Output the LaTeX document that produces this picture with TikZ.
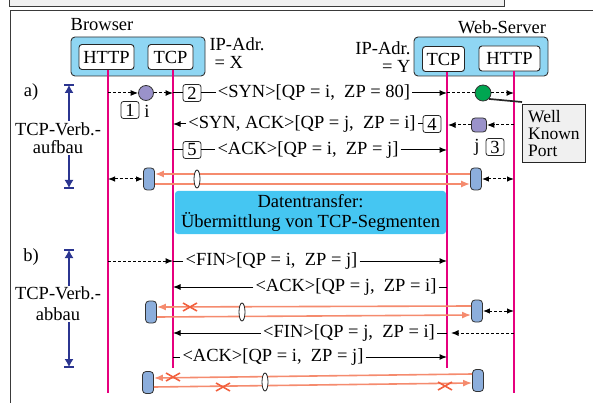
\documentclass[tikz,border=0pt]{standalone}
\usepackage{fontspec}
\setmainfont{Liberation Serif}
\usetikzlibrary{arrows.meta,shapes.geometric}
\definecolor{lifeline}{HTML}{E6007E}
\definecolor{hdrblue}{HTML}{8FD6F3}
\definecolor{dtblue}{HTML}{45C6F2}
\definecolor{salmon}{HTML}{F58B6E}
\definecolor{xred}{HTML}{F2603E}
\definecolor{phase}{HTML}{2B3590}
\definecolor{sockpurple}{HTML}{9A92CA}
\definecolor{portgreen}{HTML}{00A651}
\definecolor{pillblue}{HTML}{8CAEDC}
\definecolor{framegray}{HTML}{3A3A3A}
\begin{document}
\begin{tikzpicture}[x=1pt,y=-1pt,
  font=\fontsize{18.5}{18.5}\selectfont,
  tip/.style={-{Latex[length=7.5pt,width=6pt]}},
  hdrbox/.style={draw=black!80,fill=hdrblue,rounded corners=4pt,line width=0.9pt,inner sep=0pt},
  layer/.style={draw=black!85,fill=white,rounded corners=3pt,line width=0.9pt,minimum height=25pt,inner sep=2pt},
  life/.style={draw=lifeline,line width=2.8pt},
  plain/.style={line width=1pt},
  msg/.style={plain,tip},
  msgtxt/.style={inner xsep=2pt,inner ysep=2pt},
  dline/.style={line width=1pt,densely dashed},
  dmsg/.style={dline,tip},
  dboth/.style={dline,{Latex[length=7pt,width=5.5pt]}-{Latex[length=7pt,width=5.5pt]}},
  numbox/.style={draw=black!85,fill=white,rounded corners=2.5pt,minimum width=18pt,minimum height=17pt,inner sep=0pt,line width=0.8pt},
  pill/.style={draw=black!80,fill=pillblue,rounded corners=3.5pt,minimum width=11pt,minimum height=22pt,inner sep=0pt,line width=0.8pt},
  oval/.style={ellipse,draw=black!85,fill=white,minimum width=6pt,minimum height=18pt,inner sep=0pt,line width=0.8pt},
  seg/.style={draw=salmon,line width=1.6pt,-{Latex[length=9pt,width=7pt]}},
  xline/.style={draw=xred,line width=1.6pt},
  phasearr/.style={draw=phase,line width=1.1pt,{Latex[length=8pt,width=9pt]}-{Latex[length=8pt,width=9pt]}},
  phasebar/.style={draw=phase,line width=1.4pt},
  phaselbl/.style={fill=white,inner sep=1pt},
  frame/.style={draw=framegray,line width=0.9pt}
]
\useasboundingbox (0,0) rectangle (593,403);

% outer frame and the strip above it
\draw[frame,fill=black!6] (9,-2) rectangle (504,6);
\draw[frame] (10,403) -- (10,10) -- (593,10);

% hosts
\node (brow) at (102,25) {Browser};
\node (wserv) at (502,27) {Web-Server};
\node[hdrbox,minimum width=134pt,minimum height=39pt] (bbox) at (138,56.5) {};
\node[hdrbox,minimum width=134pt,minimum height=39pt] (sbox) at (481,56.5) {};
\node[layer,minimum width=55pt] (bhttp) at (106.5,57) {HTTP};
\node[layer,minimum width=45pt] (btcp) at (170.5,57) {TCP};
\node[layer,minimum width=42pt] (stcp) at (443.5,59) {TCP};
\node[layer,minimum width=61pt] (shttp) at (509.5,58.5) {HTTP};
\node[anchor=west] (ipx1) at (206,44) {IP-Adr.};
\node[anchor=west] (ipx2) at (211,62) {= X};
\node[anchor=east] (ipy1) at (414,48) {IP-Adr.};
\node[anchor=east] (ipy2) at (414,66) {= Y};

% lifelines
\coordinate (LH) at (108,70);  \coordinate (LHe) at (108,393);
\coordinate (LT) at (173,70);  \coordinate (LTe) at (173,368);
\coordinate (RT) at (447,72);  \coordinate (RTe) at (447,368);
\coordinate (RH) at (514,71);  \coordinate (RHe) at (514,393);
\draw[life] (LH) -- (LHe);
\draw[life] (LT) -- (LTe);
\draw[life] (RT) -- (RTe);
\draw[life] (RH) -- (RHe);

% phase markers
\node (la) at (31,92) {a)};
\node (lb) at (31,257) {b)};
\coordinate (pa1) at (69,85);  \coordinate (pa2) at (69,188);
\coordinate (pb1) at (69,250); \coordinate (pb2) at (69,367);
\draw[phasearr] (pa1) -- (pa2);
\draw[phasebar] ([xshift=-5pt]pa1) -- ([xshift=5pt]pa1);
\draw[phasebar] ([xshift=-5pt]pa2) -- ([xshift=5pt]pa2);
\draw[phasearr] (pb1) -- (pb2);
\draw[phasebar] ([xshift=-5pt]pb1) -- ([xshift=5pt]pb1);
\draw[phasebar] ([xshift=-5pt]pb2) -- ([xshift=5pt]pb2);
\node[phaselbl,align=center] (pha) at (58,138) {TCP-Verb.-\\aufbau};
\node[phaselbl,align=center,font=\fontsize{18.5}{21}\selectfont] (phb) at (58,304) {TCP-Verb.-\\abbau};

% a) connection set-up
\node[circle,draw=black!80,fill=sockpurple,minimum size=15pt,inner sep=0pt,line width=0.8pt] (c1) at (146,93) {};
\node[numbox] (n1) at (130,110) {1};
\node (ni) at (147,111) {i};
\draw[dmsg] (c1 -| LH) -- (c1.west);
\draw[dmsg] (c1.east) -- (c1 -| LT);
\node[numbox] (n2) at (192,93) {2};
\draw[plain] (n2 -| LT) -- (n2.west);
\node[msgtxt] (m1) at (314,93) {<SYN>[QP = i,\enspace ZP = 80]};
\draw[plain] (n2.east) -- (m1.west);
\draw[msg] (m1.east) -- (m1 -| RT);
\node[circle,draw=black!80,fill=portgreen,minimum size=16pt,inner sep=0pt,line width=0.8pt] (c2) at (483,93) {};
\draw[dline] (m1 -| RT) -- (c2.west);
\draw[dmsg] (c2.east) -- (c2 -| RH);
\node[draw=black!85,fill=black!6,align=left,minimum width=63pt,minimum height=58pt,inner sep=3pt,line width=0.9pt,
      font=\fontsize{17.5}{16.7}\selectfont,anchor=north west] (wkp) at (522,104) {Well\\Known\\Port};
\draw[line width=1.7pt,black!85] (c2.south east) -- ([yshift=2pt]wkp.north west);

\node[draw=black!80,fill=sockpurple,rounded corners=3.5pt,minimum width=15pt,minimum height=14pt,inner sep=0pt,line width=0.8pt] (c3) at (479,125) {};
\node (nj) at (477,147) {j};
\node[numbox] (n3) at (495,147) {3};
\draw[dmsg] (c3 -| RH) -- (c3.east);
\node[numbox] (n4) at (432,124) {4};
\draw[dmsg] (c3.west) -- ([xshift=1pt]c3 -| RT);
\node[msgtxt] (m2) at (302,124) {<SYN, ACK>[QP = j,\enspace ZP = i]};
\draw[plain] (n4.west) -- (m2.east);
\draw[msg] (m2.west) -- (m2 -| LT);

\node[numbox] (n5) at (192,150) {5};
\draw[plain] (n5 -| LT) -- (n5.west);
\node[msgtxt] (m3) at (308,150) {<ACK>[QP = i,\enspace ZP = j]};
\draw[plain] (n5.east) -- (m3.west);
\draw[msg] (m3.east) -- (m3 -| RT);

% established connection
\node[pill] (p1) at (149,179) {};
\node[pill] (p2) at (476,179) {};
\draw[dboth] (p1 -| LH) -- (p1.west);
\draw[dboth] (p2.east) -- (p2 -| RH);
\draw[seg] ([yshift=-5pt]p1.east) -- ([yshift=-5pt]p2.west);
\draw[seg] ([yshift=5pt]p2.west) -- ([yshift=5pt]p1.east);
\node[oval] (o1) at (197,179) {};

\node[fill=dtblue,rounded corners=3pt,minimum width=271pt,minimum height=43pt,inner sep=0pt,align=center,
      font=\fontsize{18.5}{20}\selectfont] (dt) at (310.5,212.5) {Datentransfer:\\Übermittlung von TCP-Segmenten};

% b) connection release
\node[msgtxt] (m5) at (271.5,261) {<FIN>[QP = i,\enspace ZP = j]};
\draw[dmsg] (m5 -| LH) -- (m5 -| LT);
\draw[plain] (m5 -| LT) -- (m5.west);
\draw[msg] (m5.east) -- (m5 -| RT);

\node[msgtxt] (m6) at (346,287) {<ACK>[QP = j,\enspace ZP = i]};
\draw[plain] (m6.east) -- (m6 -| RT);
\draw[msg] (m6.west) -- (m6 -| LT);

\node[pill] (p3) at (151,312) {};
\node[pill] (p4) at (477,311) {};
\draw[dboth] (p4.east) -- (p4 -| RH);
\draw[seg] ([yshift=-5pt]p3.east) -- ([yshift=-4pt]p4.west);
\draw[seg] ([yshift=5pt]p4.west) -- ([yshift=5pt]p3.east);
\node[oval] (o2) at (242,312) {};
\coordinate (x1) at (190,307);
\draw[xline] ([shift={(-7pt,-4pt)}]x1) -- ([shift={(7pt,4pt)}]x1) ([shift={(-7pt,4pt)}]x1) -- ([shift={(7pt,-4pt)}]x1);

\node[msgtxt] (m7) at (349,333) {<FIN>[QP = j,\enspace ZP = i]};
\draw[dmsg] (m7 -| RH) -- ([xshift=4pt]m7 -| RT);
\draw[plain] (m7.east) -- (m7 -| RT);
\draw[msg] (m7.west) -- (m7 -| LT);

\node[msgtxt] (m8) at (273,357) {<ACK>[QP = i,\enspace ZP = j]};
\draw[plain] (m8 -| LT) -- (m8.west);
\draw[msg] (m8.east) -- (m8 -| RT);

\node[pill] (p5) at (148,382.5) {};
\node[pill] (p6) at (478,380.5) {};
\draw[seg] ([yshift=-4.5pt]p5.east) -- ([yshift=-2.5pt]p6.west);
\draw[seg] ([yshift=6.5pt]p6.west) -- ([yshift=4.5pt]p5.east);
\node[oval] (o3) at (265,382) {};
\coordinate (x2) at (173,377);
\coordinate (x3) at (223,387);
\coordinate (x4) at (445,386);
\foreach \c in {x2,x3,x4}
  \draw[xline] ([shift={(-7pt,-4pt)}]\c) -- ([shift={(7pt,4pt)}]\c) ([shift={(-7pt,4pt)}]\c) -- ([shift={(7pt,-4pt)}]\c);
\end{tikzpicture}
\end{document}
